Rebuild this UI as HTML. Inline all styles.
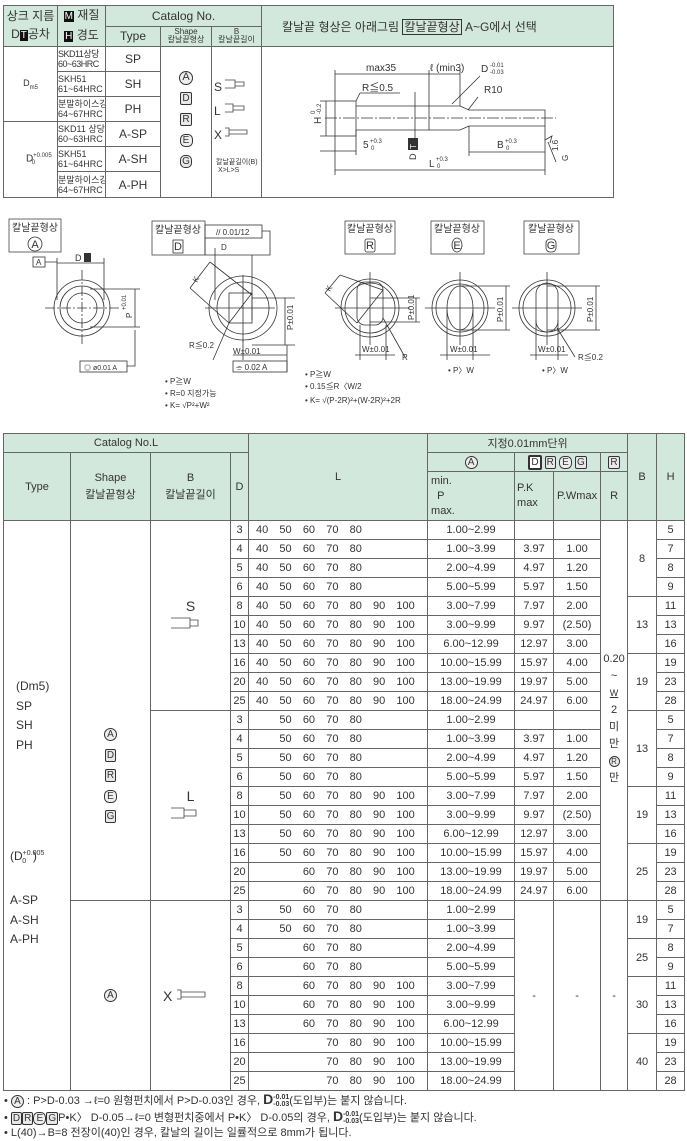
<!DOCTYPE html>
<html><head><meta charset="utf-8"><style>
*{margin:0;padding:0;box-sizing:border-box}
body{width:687px;height:1141px;background:#fff;position:relative;overflow:hidden;font-family:"Liberation Sans","Noto Sans CJK KR",sans-serif;color:#333}
table{border-collapse:collapse;table-layout:fixed;position:absolute}
td{border:1px solid #666;text-align:center;vertical-align:middle;font-size:11px;padding:0;overflow:hidden;white-space:nowrap}
.h{background:#d3e8dc}
.bx{display:inline-block;border:1px solid #333;padding:0 1px;line-height:11px;font-size:10px;background:#e8e8e8;border-radius:2px}
.ci{display:inline-block;border:1px solid #333;border-radius:50%;width:13px;height:13px;line-height:11px;font-size:10px;text-align:center;background:#eee}
#m td{height:19px;font-size:11px}
.L{text-align:left;padding-left:7px}
.L span{display:inline-block;width:23.4px}
.ab{position:absolute;white-space:nowrap}
svg{position:absolute;left:0;top:0}
</style></head><body>

<table id="t" style="left:3px;top:5px;width:610px">
<colgroup><col style="width:54px"><col style="width:48px"><col style="width:55px"><col style="width:51px"><col style="width:50px"><col style="width:352px"></colgroup>
<tr style="height:19px"><td class="h" rowspan="2" style="font-size:12px;line-height:18px">상크 지름<br>D<span style="background:#111;color:#fff;font-size:10px;padding:0 1px">T</span>공차</td>
<td class="h" rowspan="2" style="font-size:12px;line-height:18px"><span style="background:#111;color:#fff;font-size:10px;padding:0 1px">M</span> 재질<br><span style="background:#111;color:#fff;font-size:10px;padding:0 1px">H</span> 경도</td>
<td class="h" colspan="3" style="font-size:12px">Catalog No.</td>
<td class="h" rowspan="2" style="font-size:12px;text-align:left;padding-left:20px">칼날끝 형상은 아래그림 <span style="border:1px solid #333;padding:0 1px">칼날끝형상</span> A~G에서 선택</td></tr>
<tr style="height:19px"><td class="h" style="font-size:12px">Type</td><td class="h" style="font-size:8px;line-height:8px">Shape<br>칼날끝형상</td><td class="h" style="font-size:8px;line-height:8px">B<br>칼날끝길이</td></tr>
<tr style="height:25px"><td rowspan="3" style="font-size:9px">D<sub style="font-size:6px">m5</sub></td><td style="font-size:9px;line-height:10px;text-align:left;letter-spacing:-0.5px">SKD11상당<br>60~63HRC</td><td style="font-size:12px">SP</td>
<td rowspan="6" style="vertical-align:top;padding-top:20px;line-height:21px"><span class="ci" style="width:14px;height:14px;font-size:11px">A</span><br><span class="bx">D</span><br><span class="bx">R</span><br><span class="ci" style="border-radius:40%">E</span><br><span class="bx" style="border-radius:5px">G</span></td>
<td rowspan="6" style="vertical-align:top;padding-top:28px;line-height:24px;text-align:left;padding-left:2px;font-size:12px">S<br>L<br>X<br><span style="font-size:7px;line-height:8px;display:inline-block;margin-top:12px;padding-left:2px">칼날끝길이(B)<br>&nbsp;X&gt;L&gt;S</span></td>
<td rowspan="6"></td></tr>
<tr style="height:25px"><td style="font-size:9px;line-height:10px;text-align:left">SKH51<br>61~64HRC</td><td style="font-size:12px">SH</td></tr>
<tr style="height:25px"><td style="font-size:9px;line-height:10px;text-align:left">분말하이스강<br>64~67HRC</td><td style="font-size:12px">PH</td></tr>
<tr style="height:25px"><td rowspan="3" style="font-size:10px">D<sup style="font-size:6px">+0.005</sup><sub style="font-size:6px;margin-left:-20px">0</sub></td><td style="font-size:9px;line-height:10px;text-align:left">SKD11 상당<br>60~63HRC</td><td style="font-size:12px">A-SP</td></tr>
<tr style="height:25px"><td style="font-size:9px;line-height:10px;text-align:left">SKH51<br>61~64HRC</td><td style="font-size:12px">A-SH</td></tr>
<tr style="height:26px"><td style="font-size:9px;line-height:10px;text-align:left">분말하이스강<br>64~67HRC</td><td style="font-size:12px">A-PH</td></tr>
</table>

<table id="m" style="left:3px;top:433px;width:681px">
<colgroup><col style="width:67px"><col style="width:80px"><col style="width:80px"><col style="width:18px"><col style="width:179px"><col style="width:87px"><col style="width:39px"><col style="width:47px"><col style="width:27px"><col style="width:29px"><col style="width:28px"></colgroup>
<tr><td class="h" colspan="4">Catalog No.L</td><td class="h" rowspan="3">L</td><td class="h" colspan="4">지정0.01mm단위</td><td class="h" rowspan="3">B</td><td class="h" rowspan="3">H</td></tr>
<tr><td class="h" rowspan="2">Type</td><td class="h" rowspan="2" style="line-height:17px">Shape<br>칼날끝형상</td><td class="h" rowspan="2" style="line-height:17px">B<br>칼날끝길이</td><td class="h" rowspan="2">D</td><td class="h"><span class="ci">A</span></td><td class="h" colspan="2"><span class="bx" style="background:#fff;border-width:2px">D</span> <span class="bx">R</span> <span class="ci" style="border-radius:40%">E</span> <span class="bx">G</span></td><td class="h"><span class="bx">R</span></td></tr>
<tr style="height:49px"><td class="h" style="height:49px;text-align:left;line-height:15px;padding-left:3px">min.<br>&nbsp;&nbsp;P<br>max.</td><td class="h" style="text-align:left;padding-left:2px;line-height:15px">P.K<br>max</td><td class="h">P.Wmax</td><td class="h">R</td></tr>

<tr><td rowspan="30" style="vertical-align:top"><div style="position:relative;height:569px;text-align:left"><div class="ab" style="left:12px;top:156px;line-height:19.5px;font-size:12px">(Dm5)<br>SP<br>SH<br>PH</div><div class="ab" style="left:6px;top:323px;line-height:19.5px;font-size:12px">(D<sup style="font-size:7px">+0.005</sup><sub style="font-size:7px;margin-left:-22px">0</sub>&nbsp;&nbsp;)<br><br>A-SP<br>A-SH<br>A-PH</div></div></td>
<td rowspan="20" style="padding-top:130px;line-height:20.5px"><span class="ci">A</span><br><span class="bx">D</span><br><span class="bx">R</span><br><span class="ci" style="border-radius:40%">E</span><br><span class="bx">G</span></td>
<td rowspan="10" style="vertical-align:top;padding-top:76px;font-size:14px;line-height:18px">S</td>
<td>3</td><td class="L"><span>40</span><span>50</span><span>60</span><span>70</span><span>80</span></td><td>1.00~2.99</td><td></td><td></td>
<td rowspan="20" style="vertical-align:top;padding-top:130px;line-height:17px;font-size:11px">0.20<br>~<br><span style="text-decoration:underline;font-size:9px">W</span><br>2<br>미<br>만<br><span class="ci" style="width:11px;height:11px;line-height:9px;font-size:8px">R</span><br>만</td>
<td rowspan="4">8</td><td>5</td></tr>
<tr><td>4</td><td class="L"><span>40</span><span>50</span><span>60</span><span>70</span><span>80</span></td><td>1.00~3.99</td><td>3.97</td><td>1.00</td><td>7</td></tr>
<tr><td>5</td><td class="L"><span>40</span><span>50</span><span>60</span><span>70</span><span>80</span></td><td>2.00~4.99</td><td>4.97</td><td>1.20</td><td>8</td></tr>
<tr><td>6</td><td class="L"><span>40</span><span>50</span><span>60</span><span>70</span><span>80</span></td><td>5.00~5.99</td><td>5.97</td><td>1.50</td><td>9</td></tr>
<tr><td>8</td><td class="L"><span>40</span><span>50</span><span>60</span><span>70</span><span>80</span><span>90</span><span>100</span></td><td>3.00~7.99</td><td>7.97</td><td>2.00</td><td rowspan="3">13</td><td>11</td></tr>
<tr><td>10</td><td class="L"><span>40</span><span>50</span><span>60</span><span>70</span><span>80</span><span>90</span><span>100</span></td><td>3.00~9.99</td><td>9.97</td><td>(2.50)</td><td>13</td></tr>
<tr><td>13</td><td class="L"><span>40</span><span>50</span><span>60</span><span>70</span><span>80</span><span>90</span><span>100</span></td><td>6.00~12.99</td><td>12.97</td><td>3.00</td><td>16</td></tr>
<tr><td>16</td><td class="L"><span>40</span><span>50</span><span>60</span><span>70</span><span>80</span><span>90</span><span>100</span></td><td>10.00~15.99</td><td>15.97</td><td>4.00</td><td rowspan="3">19</td><td>19</td></tr>
<tr><td>20</td><td class="L"><span>40</span><span>50</span><span>60</span><span>70</span><span>80</span><span>90</span><span>100</span></td><td>13.00~19.99</td><td>19.97</td><td>5.00</td><td>23</td></tr>
<tr><td>25</td><td class="L"><span>40</span><span>50</span><span>60</span><span>70</span><span>80</span><span>90</span><span>100</span></td><td>18.00~24.99</td><td>24.97</td><td>6.00</td><td>28</td></tr>

<tr><td rowspan="10" style="vertical-align:top;padding-top:76px;font-size:14px;line-height:18px">L</td>
<td>3</td><td class="L"><span></span><span>50</span><span>60</span><span>70</span><span>80</span></td><td>1.00~2.99</td><td></td><td></td><td rowspan="4">13</td><td>5</td></tr>
<tr><td>4</td><td class="L"><span></span><span>50</span><span>60</span><span>70</span><span>80</span></td><td>1.00~3.99</td><td>3.97</td><td>1.00</td><td>7</td></tr>
<tr><td>5</td><td class="L"><span></span><span>50</span><span>60</span><span>70</span><span>80</span></td><td>2.00~4.99</td><td>4.97</td><td>1.20</td><td>8</td></tr>
<tr><td>6</td><td class="L"><span></span><span>50</span><span>60</span><span>70</span><span>80</span></td><td>5.00~5.99</td><td>5.97</td><td>1.50</td><td>9</td></tr>
<tr><td>8</td><td class="L"><span></span><span>50</span><span>60</span><span>70</span><span>80</span><span>90</span><span>100</span></td><td>3.00~7.99</td><td>7.97</td><td>2.00</td><td rowspan="3">19</td><td>11</td></tr>
<tr><td>10</td><td class="L"><span></span><span>50</span><span>60</span><span>70</span><span>80</span><span>90</span><span>100</span></td><td>3.00~9.99</td><td>9.97</td><td>(2.50)</td><td>13</td></tr>
<tr><td>13</td><td class="L"><span></span><span>50</span><span>60</span><span>70</span><span>80</span><span>90</span><span>100</span></td><td>6.00~12.99</td><td>12.97</td><td>3.00</td><td>16</td></tr>
<tr><td>16</td><td class="L"><span></span><span>50</span><span>60</span><span>70</span><span>80</span><span>90</span><span>100</span></td><td>10.00~15.99</td><td>15.97</td><td>4.00</td><td rowspan="3">25</td><td>19</td></tr>
<tr><td>20</td><td class="L"><span></span><span></span><span>60</span><span>70</span><span>80</span><span>90</span><span>100</span></td><td>13.00~19.99</td><td>19.97</td><td>5.00</td><td>23</td></tr>
<tr><td>25</td><td class="L"><span></span><span></span><span>60</span><span>70</span><span>80</span><span>90</span><span>100</span></td><td>18.00~24.99</td><td>24.97</td><td>6.00</td><td>28</td></tr>

<tr><td rowspan="10"><span class="ci">A</span></td><td rowspan="10" style="font-size:14px;text-align:left;padding-left:12px">X</td>
<td>3</td><td class="L"><span></span><span>50</span><span>60</span><span>70</span><span>80</span></td><td>1.00~2.99</td><td rowspan="10">-</td><td rowspan="10">-</td><td rowspan="10">-</td><td rowspan="2">19</td><td>5</td></tr>
<tr><td>4</td><td class="L"><span></span><span>50</span><span>60</span><span>70</span><span>80</span></td><td>1.00~3.99</td><td>7</td></tr>
<tr><td>5</td><td class="L"><span></span><span></span><span>60</span><span>70</span><span>80</span></td><td>2.00~4.99</td><td rowspan="2">25</td><td>8</td></tr>
<tr><td>6</td><td class="L"><span></span><span></span><span>60</span><span>70</span><span>80</span></td><td>5.00~5.99</td><td>9</td></tr>
<tr><td>8</td><td class="L"><span></span><span></span><span>60</span><span>70</span><span>80</span><span>90</span><span>100</span></td><td>3.00~7.99</td><td rowspan="3">30</td><td>11</td></tr>
<tr><td>10</td><td class="L"><span></span><span></span><span>60</span><span>70</span><span>80</span><span>90</span><span>100</span></td><td>3.00~9.99</td><td>13</td></tr>
<tr><td>13</td><td class="L"><span></span><span></span><span>60</span><span>70</span><span>80</span><span>90</span><span>100</span></td><td>6.00~12.99</td><td>16</td></tr>
<tr><td>16</td><td class="L"><span></span><span></span><span></span><span>70</span><span>80</span><span>90</span><span>100</span></td><td>10.00~15.99</td><td rowspan="3">40</td><td>19</td></tr>
<tr><td>20</td><td class="L"><span></span><span></span><span></span><span>70</span><span>80</span><span>90</span><span>100</span></td><td>13.00~19.99</td><td>23</td></tr>
<tr><td>25</td><td class="L"><span></span><span></span><span></span><span>70</span><span>80</span><span>90</span><span>100</span></td><td>18.00~24.99</td><td>28</td></tr>
</table>

<div class="ab" style="left:4px;top:1091px;font-size:11px;line-height:17px">• <span class="ci">A</span> : P&gt;D-0.03 →ℓ=0 원형펀치에서 P&gt;D-0.03인 경우, <b style="font-size:14px">D</b><span style="display:inline-block;font-size:7px;line-height:7px;vertical-align:middle"><b>-0.01</b><br><b>-0.03</b></span>(도입부)는 붙지 않습니다.</div>
<div class="ab" style="left:4px;top:1108px;font-size:11px;line-height:17px">• <span class="bx">D</span><span class="bx">R</span><span class="ci" style="border-radius:40%">E</span><span class="bx">G</span>P•K〉 D-0.05→ℓ=0 변형펀치중에서 P•K〉 D-0.05의 경우, <b style="font-size:14px">D</b><span style="display:inline-block;font-size:7px;line-height:7px;vertical-align:middle"><b>-0.01</b><br><b>-0.03</b></span>(도입부)는 붙지 않습니다.</div>
<div class="ab" style="left:4px;top:1125px;font-size:11px;line-height:16px">• L(40)→B=8 전장이(40)인 경우, 칼날의 길이는 일률적으로 8mm가 됩니다.</div>

<svg width="687" height="1141" viewBox="0 0 687 1141" font-family="Liberation Sans, Noto Sans CJK KR, sans-serif" fill="none" stroke="#333" stroke-width="0.8">
<rect x="335" y="101" width="21" height="35"/>
<path d="M356 106H460L469 110H545V126H469L460 130H356"/>
<line x1="429" y1="70" x2="429" y2="130"/><line x1="460" y1="70" x2="460" y2="106"/><line x1="335" y1="70" x2="335" y2="101"/>
<line x1="325" y1="118" x2="556" y2="118" stroke-dasharray="12 2 2 2"/>
<line x1="335" y1="74" x2="460" y2="74"/>
<line x1="415" y1="92" x2="415" y2="138"/>
<g fill="#333" stroke="none" font-size="10">
<text x="366" y="71">max35</text><text x="430" y="71">ℓ (min3)</text>
<text x="481" y="72">D</text><text x="490" y="67" font-size="6">-0.01</text><text x="490" y="74" font-size="6">-0.03</text>
<text x="362" y="91">R≦0.5</text><text x="484" y="93">R10</text>
<text x="363" y="148">5</text><text x="370" y="143" font-size="6">+0.3</text><text x="371" y="150" font-size="6">0</text>
<text x="497" y="148">B</text><text x="505" y="143" font-size="6">+0.3</text><text x="506" y="150" font-size="6">0</text>
<text x="429" y="167">L</text><text x="436" y="161" font-size="6">+0.3</text><text x="437" y="168" font-size="6">0</text>
<text transform="translate(321 124) rotate(-90)">H</text><text transform="translate(315 114) rotate(-90)" font-size="6">0</text><text transform="translate(321 114) rotate(-90)" font-size="6">-0.2</text>
<rect x="408" y="138" width="10" height="12"/><text transform="translate(416 160) rotate(-90)" font-size="9">D</text>
<text transform="translate(416 149) rotate(-90)" font-size="8" fill="#fff">T</text>
<text transform="translate(558 151) rotate(-90)" font-size="8">1.6</text><text transform="translate(568 161) rotate(-90)" font-size="8">G</text>
</g>
<path d="M480 76L452 104M360 93L356 101M360 93H400M478 97L468 110"/>
<line x1="326" y1="101" x2="326" y2="136"/><path d="M320 101H335M320 136H335"/>
<line x1="320" y1="151" x2="356" y2="151"/><line x1="356" y1="130" x2="356" y2="155"/>
<line x1="469" y1="126" x2="469" y2="156"/><line x1="545" y1="126" x2="545" y2="175"/><line x1="469" y1="152" x2="545" y2="152"/>
<line x1="335" y1="136" x2="335" y2="175"/><line x1="335" y1="170" x2="545" y2="170"/>
<path d="M545 140L552 136L550 143M548 142L556 162"/>

<g stroke="#444">
<path d="M225 80H235V88H225M235 82H244V86H235"/>
<path d="M225 104H233V112H225M233 106H244V110H233"/>
<path d="M225 128H229V136H225M229 130H247V134H229"/>
</g>

<g stroke="#444">
<rect x="9" y="219" width="52" height="33"/><rect x="152" y="221" width="53" height="34"/><rect x="345" y="221" width="50" height="33"/><rect x="431" y="221" width="53" height="33"/><rect x="524" y="221" width="55" height="33"/>
</g>
<g fill="#333" stroke="none" font-size="10" text-anchor="middle">
<text x="35" y="231">칼날끝형상</text><text x="178" y="233">칼날끝형상</text><text x="370" y="232">칼날끝형상</text><text x="457" y="232">칼날끝형상</text><text x="551" y="232">칼날끝형상</text>
<text x="35" y="248" font-size="11">A</text><text x="178" y="250" font-size="11">D</text><text x="370" y="249" font-size="11">R</text><text x="457" y="249" font-size="11">E</text><text x="551" y="249" font-size="11">G</text>
</g>
<circle cx="35" cy="244" r="7"/><rect x="173" y="240" width="10" height="13"/><rect x="365" y="239" width="10" height="13" rx="2"/><ellipse cx="457" cy="245" rx="5" ry="7"/><rect x="546" y="239" width="10" height="13" rx="4"/>

<circle cx="82" cy="308" r="28"/><circle cx="82" cy="308" r="22"/><circle cx="82" cy="308" r="15"/>
<path d="M45 308H120M82 270V346" stroke-dasharray="10 2 2 2"/>
<rect x="33" y="257" width="12" height="10"/><path d="M45 262H57M57 258V300M104 258V300M57 263H104M90 289H140M90 327H140M135 289V327M127 366H135V330"/>
<rect x="80" y="361" width="47" height="11"/>
<g fill="#333" stroke="none" font-size="8"><text x="36" y="265">A</text><text x="75" y="261" font-size="9">D</text><rect x="84" y="253" width="7" height="9"/>
<text transform="translate(132 318) rotate(-90)">P</text><text transform="translate(126 310) rotate(-90)" font-size="6">+0.01</text>
<text x="84" y="370" font-size="7">◎ ø0.01  A</text>
<text x="165" y="384">• P≧W</text><text x="165" y="396">• R=0  지정가능</text><text x="165" y="408">• K= √P²+W²</text>
<text x="305" y="377">• P≧W</text><text x="305" y="389">• 0.15≦R〈W/2</text><text x="305" y="403">• K= √(P-2R)²+(W-2R)²+2R</text>
<text x="448" y="373">• P〉W</text><text x="542" y="373">• P〉W</text>
</g>

<ellipse cx="243" cy="308" rx="34" ry="32"/><circle cx="243" cy="308" r="26"/>
<rect x="229" y="293" width="23" height="30"/><path d="M229 323L252 293M205 308H275M243 275V342"/>
<rect x="205" y="225" width="57" height="13"/><path d="M262 231H270V255H252M252 255V320M205 238V255M205 255H252M215 248V300"/>
<path d="M210 262L190 288M210 262L252 295M190 288L229 323M252 298H295M252 345H295M285 298V345M213 360L229 323M233 355H287M243 340V360M287 372V345"/>
<rect x="233" y="361" width="54" height="11"/>
<g fill="#333" stroke="none" font-size="8"><text x="216" y="235">//  0.01/12</text><text x="221" y="250">D</text><text x="189" y="348">R≦0.2</text><text x="233" y="354">W±0.01</text>
<text x="236" y="370">⌯   0.02   A</text><text transform="translate(293 330) rotate(-90)">P±0.01</text><text transform="translate(197 283) rotate(-60)">K</text></g>

<circle cx="370" cy="308" r="29"/><circle cx="370" cy="308" r="25"/>
<rect x="357" y="282" width="26" height="43" rx="8"/>
<path d="M335 308H410M370 272V345M357 323L383 290M340 275L325 293M340 275L383 290M325 293L357 323M370 298H420M370 322H420M416 298V322M360 325V360M386 325V360M355 355H395M383 318L405 357"/>
<g fill="#333" stroke="none" font-size="8"><text x="362" y="352">W±0.01</text><text x="402" y="360">R</text><text transform="translate(414 320) rotate(-90)">P±0.01</text><text transform="translate(330 292) rotate(-60)">K</text></g>

<circle cx="460" cy="308" r="28"/><circle cx="460" cy="308" r="24"/>
<ellipse cx="460" cy="308" rx="13" ry="22"/>
<path d="M425 308H495M460 272V345M460 286H510M460 330H510M506 286V330M447 310V360M473 310V360M440 355H490"/>
<g fill="#333" stroke="none" font-size="8"><text x="450" y="352">W±0.01</text><text transform="translate(503 322) rotate(-90)">P±0.01</text></g>

<circle cx="547" cy="308" r="28"/><circle cx="547" cy="308" r="24"/>
<rect x="536" y="283" width="22" height="49" rx="11"/>
<path d="M512 308H582M547 272V345M547 286H600M547 330H600M596 286V330M536 320V360M558 320V360M530 355H568M557 328L575 357"/>
<g fill="#333" stroke="none" font-size="8"><text x="538" y="352">W±0.01</text><text x="578" y="360">R≦0.2</text><text transform="translate(593 322) rotate(-90)">P±0.01</text></g>

<g stroke="#444">
<path d="M171 618H190V628H171M190 620H198V626H190"/>
<path d="M171 808H184V818H171M184 810H196V816H184"/>
<path d="M177 990H181V999H177M181 992H205V997H181"/>
</g>
</svg>
</body></html>
